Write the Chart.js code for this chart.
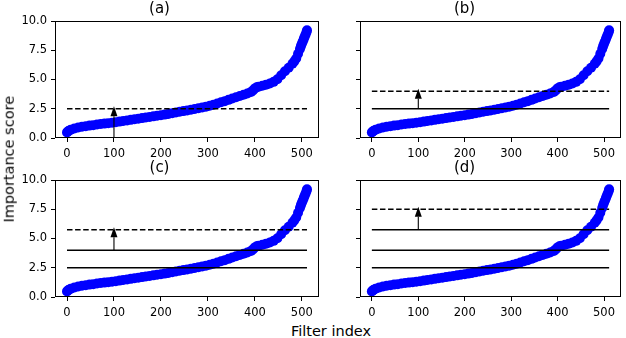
<!DOCTYPE html>
<html>
<head>
<meta charset="utf-8">
<script src="https://cdn.jsdelivr.net/npm/chart.js@4.4.1/dist/chart.umd.min.js"></script>
<style>
  html, body { margin: 0; padding: 0; background: #fff; }
  #wrap { position: relative; width: 626px; height: 338px; overflow: hidden; font-family: "DejaVu Sans", sans-serif; }
  canvas { position: absolute; }
  .lbl { position: absolute; font-family: "DejaVu Sans", sans-serif; font-size: 14.5px; line-height: 1; color: #000; white-space: nowrap; text-align: center; }
</style>
</head>
<body>
<div id="wrap">
  <canvas id="c0" width="330" height="162" style="left:0px;top:0px;"></canvas>
  <canvas id="c1" width="321" height="162" style="left:305px;top:0px;"></canvas>
  <canvas id="c2" width="330" height="162" style="left:0px;top:159px;"></canvas>
  <canvas id="c3" width="321" height="162" style="left:305px;top:159px;"></canvas>
  <div class="lbl" id="ylab" style="left:-91px;top:151.75px;width:200px;transform:rotate(-90deg);">Importance score</div>
  <div class="lbl" id="xlab" style="left:231px;top:323.75px;width:200px;">Filter index</div>
</div>
<script>
// ---- data ----
const filterIndex = [0,2,4,8,16,24,32,40,48,56,64,72,80,88,96,104,112,120,128,136,144,152,160,168,176,184,192,200,208,216,224,232,240,248,256,264,272,280,288,296,304,312,320,328,336,344,352,360,368,376,384,392,396,400,404,408,416,424,432,440,448,456,464,472,480,484,488,492,496,498,500,502,504,506,508,510,511];
const importance = [0.48,0.56,0.62,0.70,0.82,0.90,0.96,1.01,1.06,1.10,1.15,1.19,1.23,1.27,1.31,1.35,1.40,1.45,1.50,1.55,1.60,1.65,1.70,1.75,1.80,1.85,1.90,1.95,2.00,2.06,2.12,2.18,2.24,2.30,2.36,2.42,2.48,2.54,2.61,2.68,2.76,2.85,2.95,3.05,3.15,3.26,3.37,3.48,3.59,3.70,3.81,3.94,4.07,4.24,4.33,4.39,4.46,4.56,4.66,4.80,5.02,5.36,5.70,6.00,6.35,6.55,6.80,7.20,7.60,7.85,8.05,8.25,8.45,8.65,8.85,9.05,9.20];
const xTicks = [0,100,200,300,400,500];
const yTicks = [0,2.5,5,7.5,10];
const panelTitles = ['(a)','(b)','(c)','(d)'];
const solidLevels = [[], [2.5], [2.5,4.0], [2.5,4.0,5.75]];
const dashedLevels = [2.5, 4.0, 5.75, 7.5];
const arrowX = 100;
const arrowFrom = [0, 2.5, 4.0, 5.75];
const arrowTo = [2.5, 4.0, 5.75, 7.5];
const levelStart = 0, levelEnd = 511;
const xRange = [-25.55, 536.55];
const yRange = [0, 10];

Chart.defaults.font.family = '"DejaVu Sans", sans-serif';
Chart.defaults.color = '#000';

function makePanel(k) {
  const isLeft = (k % 2 === 0);
  const scatterData = filterIndex.map((x, i) => ({x: x, y: importance[i]}));
  const datasets = [];
  solidLevels[k].forEach(v => {
    datasets.push({type: 'line', data: [{x: levelStart, y: v}, {x: levelEnd, y: v}],
      borderColor: '#000', borderWidth: 1.4, pointRadius: 0, order: 0});
  });
  datasets.push({type: 'line', data: [{x: levelStart, y: dashedLevels[k]}, {x: levelEnd, y: dashedLevels[k]}],
    borderColor: '#000', borderWidth: 1.4, borderDash: [5.5, 2.6], pointRadius: 0, order: 0});
  datasets.push({type: 'scatter', data: scatterData, backgroundColor: '#0000ff', borderColor: '#0000ff',
    borderWidth: 0, pointRadius: 5, order: 1});

  const overlay = {
    id: 'overlay' + k,
    afterDatasetsDraw(chart) {
      const ctx = chart.ctx, xs = chart.scales.x, ys = chart.scales.y, a = chart.chartArea;
      ctx.save();
      const x = xs.getPixelForValue(arrowX);
      const yb = ys.getPixelForValue(arrowFrom[k]);
      const yt = ys.getPixelForValue(arrowTo[k]) - 2.5;
      const hl = 10, hw = 3.5;
      ctx.strokeStyle = '#000'; ctx.fillStyle = '#000'; ctx.lineWidth = 1.1;
      ctx.beginPath(); ctx.moveTo(x, yb); ctx.lineTo(x, yt + hl); ctx.stroke();
      ctx.beginPath(); ctx.moveTo(x - hw, yt + hl); ctx.lineTo(x + hw, yt + hl); ctx.lineTo(x, yt); ctx.closePath(); ctx.fill();
      ctx.lineWidth = 1;
      ctx.strokeRect(Math.round(a.left) + 0.5, Math.round(a.top) + 0.5, Math.round(a.right - a.left) - 1, Math.round(a.bottom - a.top) - 1);
      ctx.restore();
    }
  };

  return new Chart(document.getElementById('c' + k), {
    data: {datasets: datasets},
    options: {
      responsive: false, animation: false, devicePixelRatio: 1,
      layout: {padding: {left: 0, right: isLeft ? 11 : 2, top: 0, bottom: 0}},
      plugins: {
        legend: {display: false}, tooltip: {enabled: false},
        title: {display: true, text: panelTitles[k], font: {size: 15, weight: 'normal'}, color: '#000',
          lineHeight: 1.2, padding: {top: 0, bottom: 3}}
      },
      scales: {
        x: {type: 'linear', min: xRange[0], max: xRange[1],
          afterBuildTicks: s => { s.ticks = xTicks.map(v => ({value: v})); },
          afterFit: s => { s.height = 24; },
          ticks: {font: {size: 11.5}, color: '#000', padding: 5, maxRotation: 0, autoSkip: false,
            callback: v => String(v)},
          grid: {display: true, drawOnChartArea: false, drawTicks: true, tickLength: 4, color: '#000', lineWidth: 1},
          border: {display: false}},
        y: {type: 'linear', min: yRange[0], max: yRange[1],
          afterBuildTicks: s => { s.ticks = yTicks.map(v => ({value: v})); },
          afterFit: s => { s.width = 55; },
          ticks: {font: {size: 11.5}, color: '#000', padding: 4, autoSkip: false,
            callback: v => isLeft ? Number(v).toFixed(1) : ''},
          grid: {display: true, drawOnChartArea: false, drawTicks: true, tickLength: 4, color: '#000', lineWidth: 1},
          border: {display: false}}
      }
    },
    plugins: [overlay]
  });
}
for (let k = 0; k < 4; k++) makePanel(k);
</script>
</body>
</html>
